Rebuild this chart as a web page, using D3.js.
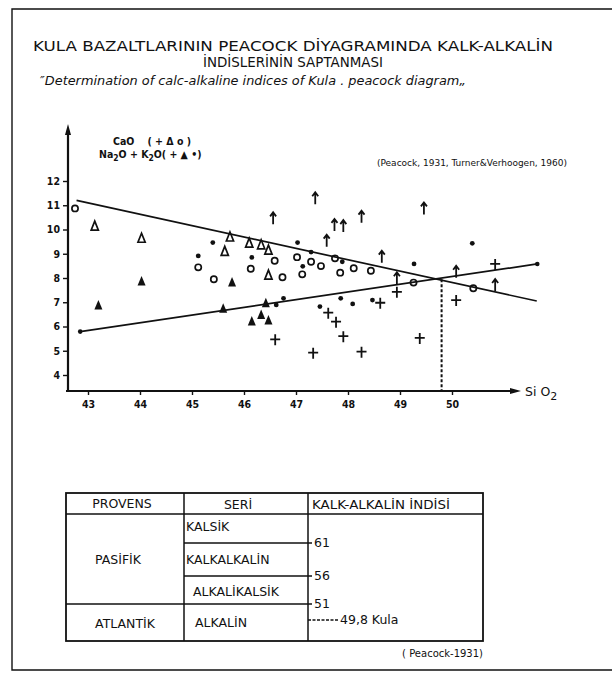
<!DOCTYPE html>
<html><head><meta charset="utf-8">
<script src="https://cdn.jsdelivr.net/npm/d3@7"></script>
<style>body{margin:0;background:#fff}svg{display:block}</style>
</head><body>
<script>
// ---------- data ----------
const xTicks = [43, 44, 45, 46, 47, 48, 49, 50];
const yTicks = [4, 5, 6, 7, 8, 9, 10, 11, 12];

// CaO  ( + Δ o )
const caoCross = [[46.56,10.46],[47.37,11.29],[47.74,10.19],[47.91,10.14],[48.26,10.53],[49.46,10.87],[47.59,9.54],[48.65,8.88],[48.94,7.99],[50.08,8.26],[50.83,7.71]];
const caoTriangle = [[43.13,10.14],[44.03,9.64],[45.73,9.69],[46.10,9.44],[46.33,9.37],[46.47,9.15],[45.63,9.10],[46.47,8.12]];
const caoCircle = [[42.75,10.87],[45.12,8.44],[45.42,7.95],[46.13,8.38],[46.59,8.71],[46.74,8.03],[47.02,8.86],[47.12,8.15],[47.29,8.67],[47.48,8.49],[47.75,8.81],[47.85,8.22],[48.11,8.40],[48.44,8.30],[49.26,7.81],[50.41,7.58]];

// Na2O + K2O ( + ▲ • )
const alkCross = [[46.60,5.47],[47.33,4.92],[48.62,6.98],[48.94,7.43],[50.08,7.09],[50.83,8.58],[47.62,6.57],[47.77,6.20],[47.91,5.60],[49.38,5.53],[48.26,4.96]];
const alkTriangle = [[43.20,6.89],[44.03,7.88],[45.77,7.83],[45.60,6.75],[46.42,6.98],[46.15,6.23],[46.33,6.50],[46.47,6.27]];
const alkDot = [[45.12,8.91],[45.40,9.46],[46.15,8.85],[47.03,9.46],[47.29,9.07],[47.13,8.48],[46.62,6.89],[46.76,7.16],[47.89,8.67],[49.27,8.58],[50.39,9.43],[47.86,7.16],[48.09,6.93],[48.47,7.09],[47.46,6.82]];

// trend lines (CaO falling, alkali rising)
const caoLine = [[42.78,11.2],[51.63,7.05]];
const alkLine = [[42.85,5.79],[51.64,8.58]];
const kulaIndex = 49.8;

// texts
const titleLines = ["KULA  BAZALTLARININ  PEACOCK  DİYAGRAMINDA  KALK-ALKALİN", "İNDİSLERİNİN  SAPTANMASI"];
const subtitle = "″Determination of calc-alkaline indices of Kula .  peacock  diagram„";
const sourceNote = "(Peacock, 1931, Turner&Verhoogen, 1960)";
const xAxisName = ["Si O", "2"];

// table
const tableHeader = ["PROVENS", "SERİ", "KALK-ALKALİN İNDİSİ"];
const provinces = ["PASİFİK", "ATLANTİK"];
const seriesNames = ["KALSİK", "KALKALKALİN", "ALKALİKALSİK", "ALKALİN"];
const indexBounds = ["61", "56", "51"];
const kulaLabel = "49,8 Kula";
const tableSource = "( Peacock-1931)";

// ---------- drawing ----------
const W = 612, H = 679;
const svg = d3.select("body").append("svg").attr("width", W).attr("height", H)
  .style("font-family", "'DejaVu Sans', sans-serif");
svg.append("rect").attr("width", W).attr("height", H).attr("fill", "#fff");

// frame
svg.append("path").attr("d", "M612,9 H12 V670 H612").attr("fill", "none").attr("stroke", "#111").attr("stroke-width", 1.4);

// titles
svg.append("text").attr("x", 33).attr("y", 51).attr("font-size", 13.5).attr("fill", "#111")
  .attr("textLength", 520).attr("lengthAdjust", "spacingAndGlyphs").text(titleLines[0]);
svg.append("text").attr("x", 203).attr("y", 67).attr("font-size", 13.5).attr("fill", "#111")
  .attr("textLength", 180).attr("lengthAdjust", "spacingAndGlyphs").text(titleLines[1]);
svg.append("text").attr("x", 40).attr("y", 85).attr("font-size", 13).attr("font-style", "italic").attr("fill", "#111")
  .attr("textLength", 426).attr("lengthAdjust", "spacingAndGlyphs").text(subtitle);

// scales
const x = d3.scaleLinear().domain([43, 50]).range([88, 452]);
const y = d3.scaleLinear().domain([4, 12]).range([375, 181]);
const x0 = x.invert(68), y0 = y.invert(391);

const g = svg.append("g");

// axes
const xAxis = d3.axisBottom(x).tickValues(xTicks).tickSize(4).tickPadding(4).tickFormat(d3.format("d"));
const yAxis = d3.axisLeft(y).tickValues(yTicks).tickSize(5).tickPadding(3).tickFormat(d3.format("d"));
const gx = g.append("g").attr("transform", `translate(0,${y(y0)})`).call(xAxis);
const gy = g.append("g").attr("transform", `translate(${x(x0)},0)`).call(yAxis);
[gx, gy].forEach(a => {
  a.select(".domain").remove();
  a.selectAll(".tick line").attr("stroke", "#111").attr("stroke-width", 1.4);
  a.selectAll(".tick text").attr("fill", "#111").attr("font-size", 10.5).attr("font-weight", "bold")
    .attr("font-family", "'DejaVu Sans Condensed','DejaVu Sans',sans-serif");
});
gx.selectAll(".tick text").attr("dy", "0.85em");

// axis lines with arrows
const axTop = 124, axRight = 521;
g.append("line").attr("x1", x(x0)).attr("x2", x(x0)).attr("y1", y(y0) + 1).attr("y2", axTop + 6)
  .attr("stroke", "#111").attr("stroke-width", 2.2);
g.append("path").attr("d", `M${x(x0)},${axTop} l-3,11 h6 z`).attr("fill", "#111");
g.append("line").attr("x1", x(x0) - 2).attr("x2", axRight - 6).attr("y1", y(y0)).attr("y2", y(y0))
  .attr("stroke", "#111").attr("stroke-width", 2.2);
g.append("path").attr("d", `M${axRight},${y(y0)} l-11,-3 v6 z`).attr("fill", "#111");
const sx = g.append("text").attr("x", axRight + 4).attr("y", y(y0) + 5).attr("font-size", 12.5).attr("fill", "#111")
  .text(xAxisName[0]);
sx.append("tspan").attr("dy", 4).attr("font-size", 11).text(xAxisName[1]);

// trend lines
const line = d3.line().x(d => x(d[0])).y(d => y(d[1]));
[caoLine, alkLine].forEach(L => {
  g.append("path").attr("d", line(L)).attr("fill", "none").attr("stroke", "#111").attr("stroke-width", 1.7);
});
g.selectAll("circle.end").data([alkLine[0], alkLine[1]]).join("circle").attr("class", "end")
  .attr("cx", d => x(d[0])).attr("cy", d => y(d[1])).attr("r", 2.3).attr("fill", "#111");

// dashed Kula index line
const interp = (L, xv) => L[0][1] + (L[1][1] - L[0][1]) * (xv - L[0][0]) / (L[1][0] - L[0][0]);
const yCross = (interp(caoLine, kulaIndex) + interp(alkLine, kulaIndex)) / 2;
g.append("line").attr("x1", x(kulaIndex)).attr("x2", x(kulaIndex)).attr("y1", y(yCross)).attr("y2", y(y0))
  .attr("stroke", "#111").attr("stroke-width", 2).attr("stroke-dasharray", "3,2");

// markers
const col = "#111";
g.selectAll("path.carrow").data(caoCross).join("path").attr("class", "carrow")
  .attr("d", d => { const px = x(d[0]), py = y(d[1]); return `M${px},${py + 6} V${py - 6} M${px - 3},${py - 2} L${px},${py - 6} L${px + 3},${py - 2}`; })
  .attr("fill", "none").attr("stroke", col).attr("stroke-width", 1.8);
g.selectAll("path.ctri").data(caoTriangle).join("path").attr("class", "ctri")
  .attr("d", d => { const px = x(d[0]), py = y(d[1]); return `M${px},${py - 5} L${px + 3.6},${py + 4} L${px - 3.6},${py + 4} Z`; })
  .attr("fill", "none").attr("stroke", col).attr("stroke-width", 1.7);
g.selectAll("circle.ccirc").data(caoCircle).join("circle").attr("class", "ccirc")
  .attr("cx", d => x(d[0])).attr("cy", d => y(d[1])).attr("r", 3.1)
  .attr("fill", "none").attr("stroke", col).attr("stroke-width", 1.7);
g.selectAll("path.across").data(alkCross).join("path").attr("class", "across")
  .attr("d", d => { const px = x(d[0]), py = y(d[1]); return `M${px - 5},${py} H${px + 5} M${px},${py - 5} V${py + 6}`; })
  .attr("fill", "none").attr("stroke", col).attr("stroke-width", 1.8);
g.selectAll("path.atri").data(alkTriangle).join("path").attr("class", "atri")
  .attr("d", d => { const px = x(d[0]), py = y(d[1]); return `M${px},${py - 5} L${px + 4},${py + 4.5} L${px - 4},${py + 4.5} Z`; })
  .attr("fill", col);
g.selectAll("circle.adot").data(alkDot).join("circle").attr("class", "adot")
  .attr("cx", d => x(d[0])).attr("cy", d => y(d[1])).attr("r", 2.4).attr("fill", col);

// legend labels
const lg = svg.append("g").attr("font-size", 10.5).attr("fill", "#111").attr("font-weight", "bold")
  .attr("font-family", "'DejaVu Sans Condensed','DejaVu Sans',sans-serif");
lg.append("text").attr("x", 113).attr("y", 145).attr("xml:space", "preserve").text("CaO    ( + Δ o )");
const l2 = lg.append("text").attr("x", 99).attr("y", 158);
l2.append("tspan").text("Na");
l2.append("tspan").attr("dy", 3).attr("font-size", 8.5).text("2");
l2.append("tspan").attr("dy", -3).text("O + K");
l2.append("tspan").attr("dy", 3).attr("font-size", 8.5).text("2");
l2.append("tspan").attr("dy", -3).text("O( + ▲ •)");

svg.append("text").attr("x", 377).attr("y", 166).attr("font-size", 9.5).attr("fill", "#111")
  .attr("font-family", "'DejaVu Sans Condensed','DejaVu Sans',sans-serif")
  .attr("textLength", 190).attr("lengthAdjust", "spacingAndGlyphs").text(sourceNote);

// ---------- table ----------
const tb = svg.append("g").attr("fill", "#111").attr("font-size", 12.5)
  .attr("font-family", "'DejaVu Sans',sans-serif");
const colX = [66, 184, 308, 483];
const rowY = [493, 514, 543, 576, 604, 641];
const ls = (x1, y1, x2, y2, w) => tb.append("line").attr("x1", x1).attr("y1", y1).attr("x2", x2).attr("y2", y2)
  .attr("stroke", "#111").attr("stroke-width", w || 1.5);
tb.append("rect").attr("x", colX[0]).attr("y", rowY[0]).attr("width", colX[3] - colX[0]).attr("height", rowY[5] - rowY[0])
  .attr("fill", "none").attr("stroke", "#111").attr("stroke-width", 1.8);
ls(colX[0], rowY[1], colX[3], rowY[1]);
ls(colX[1], rowY[0], colX[1], rowY[5]);
ls(colX[2], rowY[0], colX[2], rowY[5]);
ls(colX[1], rowY[2], colX[2] + 4, rowY[2]);
ls(colX[1], rowY[3], colX[2] + 4, rowY[3]);
ls(colX[0], rowY[4], colX[2] + 4, rowY[4]);

// header
tb.append("text").attr("x", 122).attr("y", 508).attr("text-anchor", "middle").text(tableHeader[0]);
tb.append("text").attr("x", 238).attr("y", 509).attr("text-anchor", "middle").text(tableHeader[1]);
tb.append("text").attr("x", 312).attr("y", 509).attr("textLength", 138).attr("lengthAdjust", "spacingAndGlyphs").text(tableHeader[2]);
// provinces
tb.append("text").attr("x", 118).attr("y", (rowY[1] + rowY[4]) / 2 + 5).attr("text-anchor", "middle").text(provinces[0]);
tb.append("text").attr("x", 125).attr("y", (rowY[4] + rowY[5]) / 2 + 5).attr("text-anchor", "middle").text(provinces[1]);
// series
const seriesX = [186, 186, 193, 195];
const seriesY = [531, 564, 596, 627];
seriesNames.forEach((s, i) => tb.append("text").attr("x", seriesX[i]).attr("y", seriesY[i]).text(s));
// index bounds
indexBounds.forEach((b, i) => tb.append("text").attr("x", colX[2] + 6).attr("y", rowY[i + 2] + 4).attr("font-size", 12.5).text(b));
// Kula
ls(colX[2], 620, 339, 620, 1.3).attr("stroke-dasharray", "3,1.5");
tb.append("text").attr("x", 340).attr("y", 624).attr("font-size", 12.5).text(kulaLabel);
tb.append("text").attr("x", 483).attr("y", 657).attr("text-anchor", "end").attr("font-size", 10).text(tableSource);
</script>
</body></html>
